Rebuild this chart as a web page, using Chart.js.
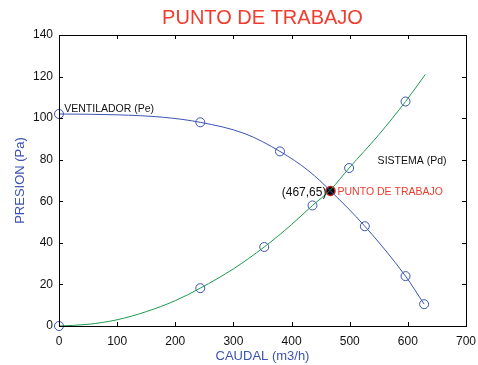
<!DOCTYPE html>
<html>
<head>
<meta charset="utf-8">
<script src="https://cdn.jsdelivr.net/npm/chart.js@4.4.1/dist/chart.umd.min.js"></script>
<style>
  html, body { margin: 0; padding: 0; background: #fff; }
  #wrap { width: 478px; height: 365px; position: relative; }
</style>
</head>
<body>
<div id="wrap"><canvas id="puntoChart"></canvas></div>
<script>
// Fan curve (ventilador)
const fanCaudal = [0, 100, 180, 243, 320, 380, 430, 467, 526, 596, 628];
const fanPresion = [102, 101.6, 100.4, 98, 92.5, 84, 74.5, 65, 48, 24, 10.5];
// Fan curve markers
const fanMarkCaudal = [0, 243, 380, 526, 596, 628];
const fanMarkPresion = [102, 98, 84, 48, 24, 10.5];

// System curve (sistema)
const sysCaudal = [0, 50, 100, 150, 200, 243, 300, 353, 400, 436, 467, 499, 550, 596, 630];
const sysPresion = [0, 0.8, 3, 6.9, 12.2, 18.2, 27.5, 38, 48.8, 58, 65.5, 76, 92, 108, 121];
// System curve markers
const sysMarkCaudal = [0, 243, 353, 436, 499, 596];
const sysMarkPresion = [0, 18.2, 38, 58, 76, 108];

// Operating point
const workCaudal = [467];
const workPresion = [65];

const xTicks = [0, 100, 200, 300, 400, 500, 600, 700];
const yTicks = [0, 20, 40, 60, 80, 100, 120, 140];

const BLUE = '#3b53b3';
const GREEN = '#1c9a4c';
const RED = '#f03c2e';
const FONT = "'Liberation Sans', Arial, sans-serif";

const toXY = (xs, ys) => xs.map((x, i) => ({ x: x, y: ys[i] }));

// draws frame, inward ticks, title, axis titles and text labels (MATLAB look)
const matlabPlugin = {
    id: 'matlabLook',
    afterDraw(chart) {
        const { ctx, chartArea: a, scales } = chart;
        const sx = scales.x, sy = scales.y;
        ctx.save();
        ctx.strokeStyle = '#000';
        ctx.lineWidth = 1;
        ctx.strokeRect(a.left + 0.5, a.top + 0.5, a.right - a.left, a.bottom - a.top);
        ctx.beginPath();
        xTicks.forEach(v => {
            const px = Math.round(sx.getPixelForValue(v)) + 0.5;
            ctx.moveTo(px, a.bottom); ctx.lineTo(px, a.bottom - 4);
            ctx.moveTo(px, a.top); ctx.lineTo(px, a.top + 4);
        });
        yTicks.forEach(v => {
            const py = Math.round(sy.getPixelForValue(v)) + 0.5;
            ctx.moveTo(a.left, py); ctx.lineTo(a.left + 4, py);
            ctx.moveTo(a.right, py); ctx.lineTo(a.right - 4, py);
        });
        ctx.stroke();

        // title
        ctx.fillStyle = RED;
        ctx.font = '20px ' + FONT;
        ctx.textAlign = 'center';
        ctx.textBaseline = 'middle';
        ctx.fillText('PUNTO DE TRABAJO', (a.left + a.right) / 2, 18);

        // axis titles
        ctx.fillStyle = BLUE;
        ctx.font = '13px ' + FONT;
        ctx.fillText('CAUDAL (m3/h)', (a.left + a.right) / 2, 356);
        ctx.save();
        ctx.translate(20, (a.top + a.bottom) / 2);
        ctx.rotate(-Math.PI / 2);
        ctx.fillText('PRESION (Pa)', 0, 0);
        ctx.restore();

        // curve labels
        ctx.font = '10.5px ' + FONT;
        ctx.fillStyle = '#111';
        ctx.textAlign = 'left';
        ctx.fillText('VENTILADOR (Pe)', sx.getPixelForValue(9), sy.getPixelForValue(104.3));
        ctx.fillText('SISTEMA (Pd)', sx.getPixelForValue(548), sy.getPixelForValue(79.5));
        ctx.fillStyle = RED;
        ctx.fillText('PUNTO DE TRABAJO', sx.getPixelForValue(479), sy.getPixelForValue(64.5));
        ctx.fillStyle = '#111';
        ctx.font = '12px ' + FONT;
        ctx.textAlign = 'right';
        ctx.fillText('(' + workCaudal[0] + ',' + workPresion[0] + ')', sx.getPixelForValue(460), sy.getPixelForValue(64));
        ctx.restore();
    }
};

const ctx = document.getElementById('puntoChart').getContext('2d');
new Chart(ctx, {
    type: 'scatter',
    data: {
        datasets: [
            {
                label: 'Ventilador',
                data: toXY(fanCaudal, fanPresion),
                showLine: true,
                borderColor: BLUE,
                borderWidth: 1,
                pointRadius: 0,
                cubicInterpolationMode: 'monotone'
            },
            {
                label: 'Sistema',
                data: toXY(sysCaudal, sysPresion),
                showLine: true,
                borderColor: GREEN,
                borderWidth: 1,
                pointRadius: 0,
                cubicInterpolationMode: 'monotone'
            },
            {
                label: 'Ventilador puntos',
                data: toXY(fanMarkCaudal, fanMarkPresion),
                clip: false,
                pointRadius: 4.5,
                pointBorderWidth: 1,
                pointBorderColor: BLUE,
                pointBackgroundColor: 'rgba(0,0,0,0)'
            },
            {
                label: 'Sistema puntos',
                data: toXY(sysMarkCaudal, sysMarkPresion),
                clip: false,
                pointRadius: 4.5,
                pointBorderWidth: 1,
                pointBorderColor: BLUE,
                pointBackgroundColor: 'rgba(0,0,0,0)'
            },
            {
                label: 'Punto de trabajo',
                data: toXY(workCaudal, workPresion),
                pointRadius: 4.5,
                pointBorderWidth: 1.5,
                pointBorderColor: '#c0201a',
                pointBackgroundColor: '#000'
            }
        ]
    },
    options: {
        responsive: true,
        maintainAspectRatio: false,
        animation: false,
        events: [],
        layout: { padding: { top: 35, right: 12, left: 0, bottom: 0 } },
        scales: {
            x: {
                min: 0, max: 700,
                afterFit: s => { s.height = 39; s.paddingLeft = 0; s.paddingRight = 0; },
                afterBuildTicks: s => { s.ticks = xTicks.map(v => ({ value: v })); },
                grid: { drawOnChartArea: false, drawTicks: false },
                border: { display: false },
                ticks: { color: '#111', font: { family: FONT, size: 12 }, padding: 8, maxRotation: 0 }
            },
            y: {
                min: 0, max: 140,
                afterFit: s => { s.width = 59; s.paddingTop = 0; s.paddingBottom = 0; },
                afterBuildTicks: s => { s.ticks = yTicks.map(v => ({ value: v })); },
                grid: { drawOnChartArea: false, drawTicks: false },
                border: { display: false },
                ticks: { color: '#111', font: { family: FONT, size: 12 }, padding: 6 }
            }
        },
        plugins: {
            legend: { display: false },
            title: { display: false },
            tooltip: { enabled: false }
        }
    },
    plugins: [matlabPlugin]
});
</script>
</body>
</html>
